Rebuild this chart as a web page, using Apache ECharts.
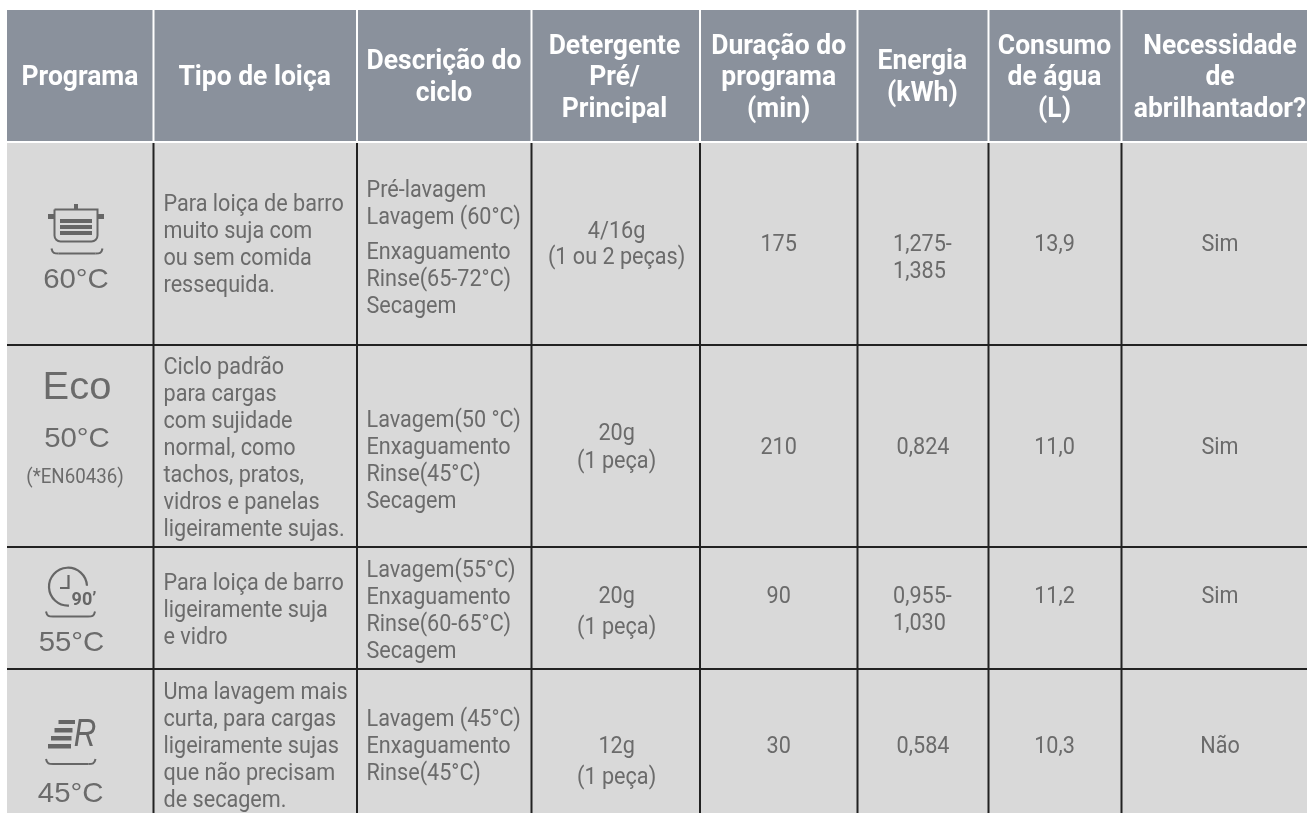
<!DOCTYPE html>
<html>
<head>
<meta charset="utf-8">
<title>Programas</title>
<script src="https://cdn.jsdelivr.net/npm/echarts@6/dist/echarts.min.js"></script>
<style>
  html, body { margin: 0; padding: 0; background: #fff; }
  #main { width: 1307px; height: 813px; }
</style>
</head>
<body>
<div id="main"></div>
<script>
// Conteudo da tabela
var cabecalhos = ['Programa', 'Tipo de loiça', 'Descrição do\nciclo', 'Detergente\nPré/\nPrincipal',
  'Duração do\nprograma\n(min)', 'Energia\n(kWh)', 'Consumo\nde água\n(L)', 'Necessidade\nde\nabrilhantador?'];
var tipoLoica = [
  'Para loiça de barro\nmuito suja com\nou sem comida\nressequida.',
  'Ciclo padrão\npara cargas\ncom sujidade\nnormal, como\ntachos, pratos,\nvidros e panelas\nligeiramente sujas.',
  'Para loiça de barro\nligeiramente suja\ne vidro',
  'Uma lavagem mais\ncurta, para cargas\nligeiramente sujas\nque não precisam\nde secagem.'
];
var descricaoCiclo = [
  'Pré-lavagem\nLavagem (60°C)',
  'Enxaguamento\nRinse(65-72°C)\nSecagem',
  'Lavagem(50 °C)\nEnxaguamento\nRinse(45°C)\nSecagem',
  'Lavagem(55°C)\nEnxaguamento\nRinse(60-65°C)\nSecagem',
  'Lavagem (45°C)\nEnxaguamento\nRinse(45°C)'
];
var detergenteGramas = ['4/16g', '20g', '20g', '12g'];
var detergentePecas = ['(1 ou 2 peças)', '(1 peça)', '(1 peça)', '(1 peça)'];
var duracao = ['175', '210', '90', '30'];
var energia = ['1,275-\n1,385', '0,824', '0,955-\n1,030', '0,584'];
var consumoAgua = ['13,9', '11,0', '11,2', '10,3'];
var abrilhantador = ['Sim', 'Sim', 'Sim', 'Não'];
var temperaturas = ['60°C', '50°C', '55°C', '45°C'];

// Layout (px)
var colunas = [7, 153.5, 357, 531.5, 700, 857.5, 988.5, 1121.5, 1307];
var linhas = [143, 345, 547, 669, 813];
var centroCab = [80, 254.6, 444, 614.5, 778.7, 922.4, 1054.5, 1220];
var centroVal = [616.6, 778.7, 926, 1054.5, 1220];
var yPrimeira = [245, 448, 597, 747];

var COR_TEXTO = '#6b6b6b';
var FONTE = 'Roboto';

var textos = [];
function addTexto(t, x, y, opts) {
  t.split('\n').forEach(function (linha, i) {
    textos.push(Object.assign({ t: linha, x: x, y: y + i * ((opts && opts.step) || 27) }, opts));
  });
}

// cabecalho
cabecalhos.forEach(function (c, i) {
  var n = c.split('\n').length;
  addTexto(c, centroCab[i], 78 - (n - 1) * 15.5, { step: 31.5, align: 'center', size: 27, weight: 'bold', cor: '#fff', sx: 0.98 });
});
// tipo de loica
[205, 368, 584, 693].forEach(function (y, i) {
  addTexto(tipoLoica[i], 163.5, y, { align: 'left' });
});
// descricao
[191, 253, 421, 571, 720].forEach(function (y, i) {
  addTexto(descricaoCiclo[i], 366.5, y, { align: 'left' });
});
// detergente
[232, 434, 597, 747].forEach(function (y, i) {
  addTexto(detergenteGramas[i], centroVal[0], y, { align: 'center' });
  addTexto(detergentePecas[i], centroVal[0], y + (i === 0 ? 26.5 : i === 1 ? 28 : 31), { align: 'center' });
});
// restantes colunas
yPrimeira.forEach(function (y, i) {
  addTexto(duracao[i], centroVal[1], y, { align: 'center' });
  addTexto(energia[i], energia[i].indexOf('\n') > 0 ? 893 : centroVal[2] - 3, y, { align: energia[i].indexOf('\n') > 0 ? 'left' : 'center' });
  addTexto(consumoAgua[i], centroVal[3], y, { align: 'center' });
  addTexto(abrilhantador[i], centroVal[4], y, { align: 'center' });
});
// coluna programa
var ARIAL = 'Liberation Sans';
[[76, 280], [77, 439], [71.5, 643], [70.7, 794]].forEach(function (p, i) {
  addTexto(temperaturas[i], p[0], p[1], { align: 'center', size: 28, font: ARIAL, sx: 1.05 });
});
addTexto('Eco', 77, 389, { align: 'center', size: 38, font: ARIAL, sx: 1.05 });
addTexto('(*EN60436)', 75, 478, { align: 'center', size: 21, sx: 0.89 });

// celulas: cabecalho e corpo
var celulas = [];
colunas.slice(1).forEach(function (c, i) {
  celulas.push([i, 0]);
});

function renderFundo(params, api) {
  var i = api.value(0);
  var a = api.coord([colunas[i], 10]);
  var b = api.coord([colunas[i + 1], 141]);
  var c = api.coord([colunas[i], 143]);
  var d = api.coord([colunas[i + 1], 813]);
  return {
    type: 'group',
    children: [
      { type: 'rect', shape: { x: a[0], y: a[1], width: b[0] - a[0], height: b[1] - a[1] }, style: { fill: '#8a919c' } },
      { type: 'rect', shape: { x: c[0], y: c[1], width: d[0] - c[0], height: d[1] - c[1] }, style: { fill: '#d9d9d9' } }
    ]
  };
}

function renderGrelha(params, api) {
  var filhos = [];
  colunas.slice(1, -1).forEach(function (x) {
    var p = api.coord([x, 10]), q = api.coord([x, 141]), r = api.coord([x, 143]), s = api.coord([x, 813]);
    filhos.push({ type: 'line', shape: { x1: p[0], y1: p[1], x2: q[0], y2: q[1] }, style: { stroke: '#fff', lineWidth: 2 } });
    filhos.push({ type: 'line', shape: { x1: r[0], y1: r[1], x2: s[0], y2: s[1] }, style: { stroke: '#222', lineWidth: 2 } });
  });
  linhas.slice(1, -1).forEach(function (y) {
    var p = api.coord([colunas[0], y]), q = api.coord([1307, y]);
    filhos.push({ type: 'line', shape: { x1: p[0], y1: p[1], x2: q[0], y2: q[1] }, style: { stroke: '#222', lineWidth: 2 } });
  });
  return { type: 'group', children: filhos };
}

function renderTexto(params, api) {
  var t = textos[params.dataIndex];
  var p = api.coord([t.x, t.y]);
  return {
    type: 'text',
    x: p[0], y: p[1],
    scaleX: t.sx || 0.94,
    style: {
      x: 0, y: 0,
      text: t.t,
      fill: t.cor || COR_TEXTO,
      font: (t.weight || 'normal') + ' ' + (t.size || 23) + 'px "' + (t.font || FONTE) + '"',
      align: t.align,
      verticalAlign: 'middle'
    }
  };
}

// Icones da coluna programa
var COR_ICONE = '#666';
function tabuleiro(x1, x2, y) {
  return { type: 'bezierCurve', shape: { x1: x1, y1: y, cpx1: x1 + 1, cpy1: y + 5, cpx2: x1 + 3, cpy2: y + 5, x2: x1 + 7, y2: y + 5 }, style: { stroke: COR_ICONE, fill: null, lineWidth: 2 } };
}
function tabuleiroCompleto(x1, x2, y) {
  return [
    tabuleiro(x1, x2, y),
    { type: 'bezierCurve', shape: { x1: x2, y1: y, cpx1: x2 - 1, cpy1: y + 5, cpx2: x2 - 3, cpy2: y + 5, x2: x2 - 7, y2: y + 5 }, style: { stroke: COR_ICONE, fill: null, lineWidth: 2 } },
    { type: 'line', shape: { x1: x1 + 7, y1: y + 5, x2: x2 - 7, y2: y + 5 }, style: { stroke: COR_ICONE, lineWidth: 2 } }
  ];
}
function barra(x, y, w, h) {
  return { type: 'rect', shape: { x: x, y: y, width: w, height: h }, style: { fill: COR_ICONE } };
}
var icones = [
  // tacho
  { type: 'rect', shape: { x: 54.5, y: 209.5, width: 43, height: 32, r: [0, 0, 6, 6] }, style: { stroke: COR_ICONE, fill: null, lineWidth: 2 } },
  barra(74, 204, 4, 5), barra(48, 214, 7, 5), barra(98, 214, 6, 5),
  barra(60, 219, 32, 4), barra(60, 225, 32, 4), barra(60, 231, 32, 4)
].concat(tabuleiroCompleto(51.5, 102.5, 248.5)).concat([
  // relogio
  { type: 'arc', shape: { cx: 68, cy: 586.7, r: 19, startAngle: -0.05, endAngle: Math.PI / 2 - 0.05, clockwise: false }, style: { stroke: COR_ICONE, fill: null, lineWidth: 2.2 } },
  { type: 'polyline', shape: { points: [[68.5, 575], [68.5, 588], [60, 588]] }, style: { stroke: COR_ICONE, fill: null, lineWidth: 2.2 } },
  { type: 'text', x: 84, y: 600, style: { text: '90’', fill: COR_ICONE, font: 'bold 18px "Roboto"', align: 'center', verticalAlign: 'middle' } }
]).concat(tabuleiroCompleto(46, 95, 611.5)).concat([
  // R
  barra(58.5, 720, 16.5, 4), barra(54.5, 728, 18, 4.5), barra(51, 736, 20.5, 4.5), barra(48, 744, 23, 4.5),
  { type: 'text', x: 85, y: 735, scaleX: 0.8, style: { text: 'R', fill: COR_ICONE, font: 'italic 39px "Liberation Sans"', align: 'center', verticalAlign: 'middle' } }
]).concat(tabuleiroCompleto(46, 95.5, 759));

document.addEventListener('DOMContentLoaded', function () {
  var myChart = echarts.init(document.getElementById('main'), null, { renderer: 'canvas' });
  myChart.setOption({
    backgroundColor: '#fff',
    animation: false,
    grid: { left: 0, right: 0, top: 0, bottom: 0 },
    xAxis: { type: 'value', min: 0, max: 1307, show: false },
    yAxis: { type: 'value', min: 0, max: 813, inverse: true, show: false },
    graphic: icones.map(function (g) { return Object.assign({ silent: true, z: 10 }, g); }),
    series: [
      { type: 'custom', silent: true, z: 1, data: celulas, renderItem: renderFundo, clip: false },
      { type: 'custom', silent: true, z: 2, data: [[0, 0]], renderItem: renderGrelha, clip: false },
      { type: 'custom', silent: true, z: 3, data: textos.map(function (t, i) { return [t.x, t.y]; }), renderItem: renderTexto, clip: false }
    ]
  });
});
</script>
</body>
</html>
